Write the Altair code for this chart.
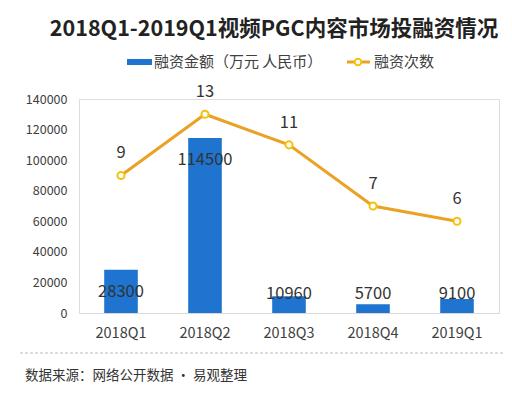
import altair as alt
import pandas as pd

quarters = ["2018Q1", "2018Q2", "2018Q3", "2018Q4", "2019Q1"]
amounts = [28300, 114500, 10960, 5700, 9100]
counts = [9, 13, 11, 7, 6]
y_ticks = [0, 20000, 40000, 60000, 80000, 100000, 120000, 140000]

title_text = "2018Q1-2019Q1视频PGC内容市场投融资情况"
legend_bar = "融资金额（万元 人民币）"
legend_line = "融资次数"
source_text = "数据来源：网络公开数据 · 易观整理"

df = pd.DataFrame({"quarter": quarters, "amount": amounts, "count": counts})

FONT = "Noto Sans CJK SC"
BLUE = "#1E74CF"
ORANGE = "#EBA224"
YELLOW = "#F4C20D"
TXT = "#333333"

x = alt.X("quarter:N", sort=quarters, title=None,
          scale=alt.Scale(paddingInner=0.6, paddingOuter=0.3),
          axis=alt.Axis(labelAngle=0, ticks=False, domainColor="#D9D9D9",
                        labelFontSize=14.5, labelColor="#404040", labelPadding=13,
                        labelFont=FONT))

base = alt.Chart(df)

ysc = alt.Scale(domain=[0, 140000])
yaxis = alt.Axis(values=y_ticks, grid=False, domain=False, ticks=False,
                 labelOverlap=False, labelPadding=12, labelFontSize=12.5,
                 labelColor="#404040", labelFont=FONT, format="d")
bars = base.mark_bar(color=BLUE).encode(
    x=x,
    y=alt.Y("amount:Q", scale=ysc, title=None, axis=yaxis),
)
bar_labels = base.transform_calculate(
    lab="max(datum.amount - 14500, 12400)"
).mark_text(font=FONT, fontSize=16.5, color=TXT, baseline="middle").encode(
    x=x, y=alt.Y("lab:Q", scale=ysc, title=None, axis=yaxis),
    text=alt.Text("amount:Q", format="d"))

csc = alt.Scale(domain=[0, 14])
line = base.mark_line(color=ORANGE, strokeWidth=3).encode(
    x=x, y=alt.Y("count:Q", scale=csc, axis=None))
pts = base.mark_point(filled=True, fill="white", stroke=YELLOW, strokeWidth=2,
                      size=50, opacity=1).encode(
    x=x, y=alt.Y("count:Q", scale=csc, axis=None))
pt_labels = base.mark_text(font=FONT, fontSize=16.5, color=TXT, baseline="middle",
                           dy=-22).encode(
    x=x, y=alt.Y("count:Q", scale=csc, axis=None), text="count:Q")

one = alt.Chart(pd.DataFrame({"a": [0]}))
title = one.mark_text(font=FONT, fontSize=21.5, fontWeight="bold", color="#222222",
                      align="center", baseline="middle").encode(
    x=alt.value(195), y=alt.value(-69), text=alt.value(title_text))
sw = one.mark_rect(color=BLUE).encode(
    x=alt.value(48), x2=alt.value(73), y=alt.value(-40), y2=alt.value(-34))
sw_t = one.mark_text(font=FONT, fontSize=15, color="#404040", align="left",
                     baseline="middle").encode(
    x=alt.value(75), y=alt.value(-37), text=alt.value(legend_bar))
lr = one.mark_rule(color=ORANGE, strokeWidth=3).encode(
    x=alt.value(268), x2=alt.value(291), y=alt.value(-37))
lp = one.mark_point(filled=True, fill="white", stroke=YELLOW, strokeWidth=2,
                    size=45, opacity=1).encode(x=alt.value(279), y=alt.value(-37))
lt = one.mark_text(font=FONT, fontSize=15, color="#404040", align="left",
                   baseline="middle").encode(
    x=alt.value(295), y=alt.value(-37), text=alt.value(legend_line))
sep = one.mark_rule(color="#BBBBBB", strokeWidth=1, strokeDash=[3, 2]).encode(
    x=alt.value(-59), x2=alt.value(440), y=alt.value(254))
src = one.mark_text(font=FONT, fontSize=13.5, color=TXT, align="left",
                    baseline="middle").encode(
    x=alt.value(-54), y=alt.value(277), text=alt.value(source_text))

chart = alt.layer(
    alt.layer(bars, bar_labels),
    alt.layer(line, pts, pt_labels),
    title, sw, sw_t, lr, lp, lt, sep, src,
).resolve_scale(y="independent").properties(
    width=420, height=214,
    autosize=alt.AutoSizeParams(type="none"),
    padding={"left": 71, "top": 91, "right": 5, "bottom": 73},
).configure_view(stroke=None).configure(background="white")

chart.save("out.html", embed_options={"renderer": "svg", "actions": False})
